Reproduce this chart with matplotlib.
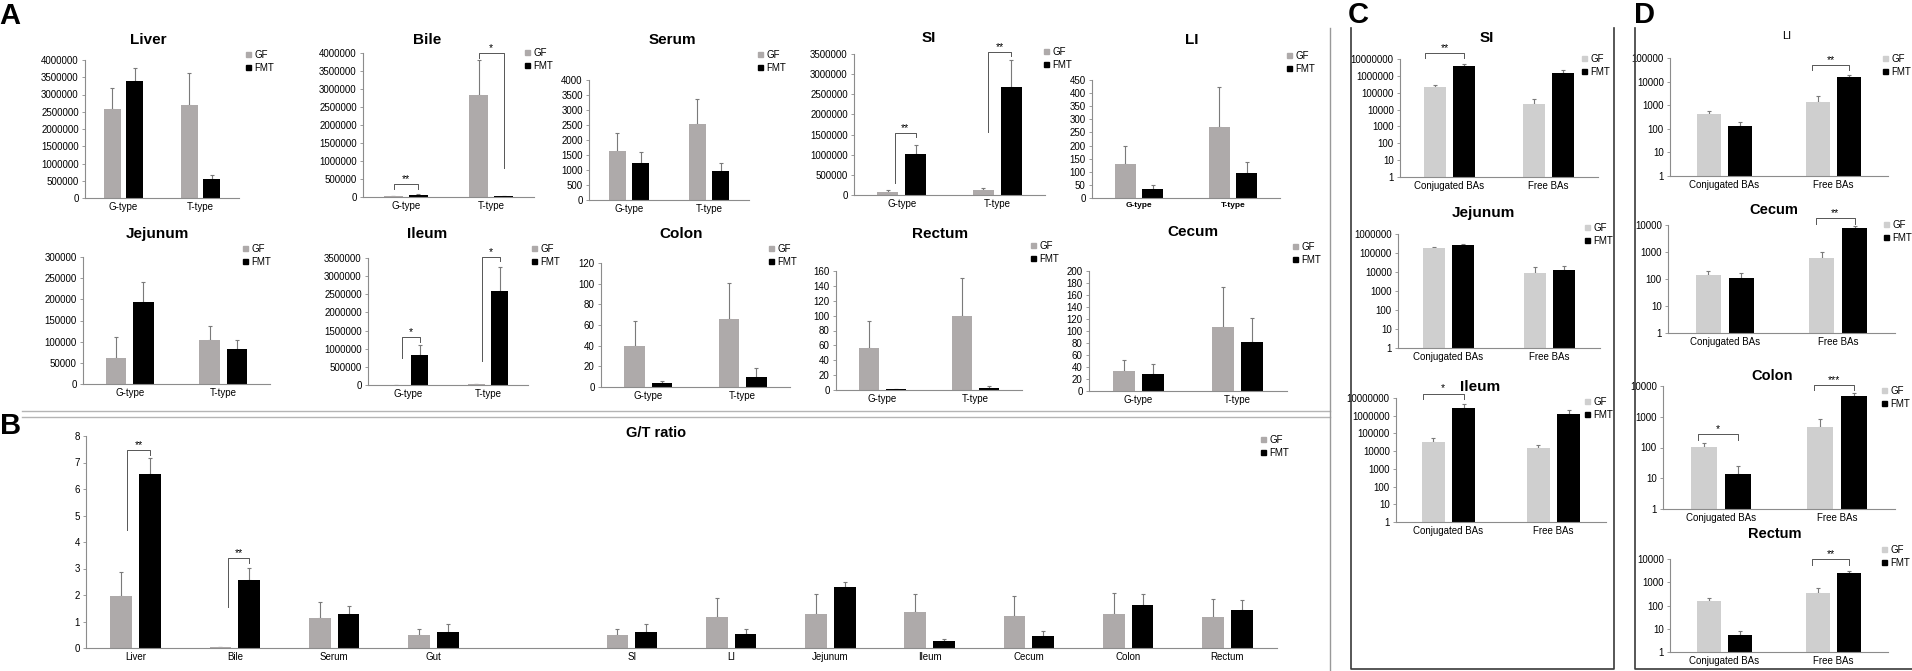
import numpy as np
import matplotlib
matplotlib.use('Agg')
import matplotlib.pyplot as plt
from matplotlib.lines import Line2D
from matplotlib.patches import Patch
from matplotlib.ticker import FuncFormatter, NullLocator

plt.rcParams['font.family'] = ['Liberation Sans', 'DejaVu Sans']

# ---- data (mean and upper SD) ----
groups_a = ['G-type', 'T-type']
groups_cd = ['Conjugated BAs', 'Free BAs']

liver_gf, liver_gf_sd = [2580000, 2700000], [620000, 920000]
liver_fmt, liver_fmt_sd = [3380000, 550000], [390000, 120000]
bile_gf, bile_gf_sd = [15000, 2820000], [8000, 980000]
bile_fmt, bile_fmt_sd = [60000, 15000], [30000, 8000]
serum_gf, serum_gf_sd = [1650, 2550], [570, 830]
serum_fmt, serum_fmt_sd = [1220, 980], [390, 240]
si_gf, si_gf_sd = [65000, 120000], [50000, 50000]
si_fmt, si_fmt_sd = [1010000, 2680000], [230000, 660000]
li_gf, li_gf_sd = [130, 271], [70, 153]
li_fmt, li_fmt_sd = [34, 95], [16, 42]
jej_gf, jej_gf_sd = [62000, 105000], [48000, 32000]
jej_fmt, jej_fmt_sd = [193000, 83000], [47000, 22000]
ile_gf, ile_gf_sd = [8000, 20000], [5000, 8000]
ile_fmt, ile_fmt_sd = [830000, 2580000], [270000, 670000]
colon_gf, colon_gf_sd = [40, 66], [24, 35]
colon_fmt, colon_fmt_sd = [4, 10], [1.5, 8]
rectum_gf, rectum_gf_sd = [57, 100], [36, 51]
rectum_fmt, rectum_fmt_sd = [1.5, 3], [0.5, 2]
cecum_gf, cecum_gf_sd = [33, 107], [19, 67]
cecum_fmt, cecum_fmt_sd = [29, 82], [16, 40]

nan = np.nan
ratio_cats = ['Liver', 'Bile', 'Serum', 'Gut', '', 'SI', 'LI', 'Jejunum', 'Ileum', 'Cecum', 'Colon', 'Rectum']
ratio_gf = [1.95, 0.02, 1.13, 0.49, nan, 0.49, 1.18, 1.28, 1.37, 1.22, 1.30, 1.17]
ratio_gf_sd = [0.93, 0.03, 0.61, 0.21, nan, 0.22, 0.71, 0.77, 0.68, 0.74, 0.77, 0.68]
ratio_fmt = [6.57, 2.58, 1.28, 0.61, nan, 0.61, 0.54, 2.30, 0.25, 0.45, 1.62, 1.43]
ratio_fmt_sd = [0.60, 0.44, 0.32, 0.30, nan, 0.29, 0.19, 0.20, 0.08, 0.20, 0.42, 0.38]

c_si_gf, c_si_gf_sd = [210000, 21000], [70000, 21000]
c_si_fmt, c_si_fmt_sd = [3700000, 1400000], [1200000, 700000]
c_jej_gf, c_jej_gf_sd = [180000, 9000], [30000, 9000]
c_jej_fmt, c_jej_fmt_sd = [260000, 12700], [40000, 8000]
c_ile_gf, c_ile_gf_sd = [35000, 14500], [17000, 6500]
c_ile_fmt, c_ile_fmt_sd = [2900000, 1300000], [1400000, 900000]

d_li_gf, d_li_gf_sd = [425, 1380], [135, 1070]
d_li_fmt, d_li_fmt_sd = [130, 15500], [65, 3500]
d_cec_gf, d_cec_gf_sd = [135, 580], [55, 450]
d_cec_fmt, d_cec_fmt_sd = [105, 7900], [55, 1400]
d_col_gf, d_col_gf_sd = [103, 460], [35, 370]
d_col_fmt, d_col_fmt_sd = [13.8, 4700], [11, 1100]
d_rec_gf, d_rec_gf_sd = [155, 340], [55, 220]
d_rec_fmt, d_rec_fmt_sd = [5.4, 2450], [2.6, 550]

# ---- styles ----
W, H = 1912, 671
GF_AB = '#aeaaaa'
GF_CD = '#cfcfcf'
AXC = '#8c8c8c'
ERR = '#7a7a7a'
BW, OFF = 0.22, 0.145

fig = plt.figure(figsize=(W / 100, H / 100), dpi=100)
intfmt = FuncFormatter(lambda v, p: f'{v:.0f}')


def fx(x):
    return x / W


def fy(y):
    return 1 - y / H


def make_axes(l, t, r, b):
    ax = fig.add_axes([l / W, 1 - b / H, (r - l) / W, (b - t) / H])
    for s in ('top', 'right'):
        ax.spines[s].set_visible(False)
    for s in ('left', 'bottom'):
        ax.spines[s].set_color(AXC)
        ax.spines[s].set_linewidth(0.8)
    ax.tick_params(axis='y', length=2.5, width=0.6, color=AXC, labelsize=7, pad=2)
    ax.tick_params(axis='x', length=0, labelsize=7, pad=3)
    return ax


def draw_bars(ax, cats, gf, gf_sd, fmt, fmt_sd, gfc):
    x = np.arange(len(cats))
    ax.bar(x - OFF, gf, BW, color=gfc, zorder=2)
    ax.bar(x + OFF, fmt, BW, color='black', zorder=2)
    z = np.zeros(len(cats))
    ax.errorbar(x - OFF, gf, yerr=[z, gf_sd], fmt='none', ecolor=ERR,
                elinewidth=0.8, capsize=1.2, capthick=0.8, zorder=1)
    ax.errorbar(x + OFF, fmt, yerr=[z, fmt_sd], fmt='none', ecolor=ERR,
                elinewidth=0.8, capsize=1.2, capthick=0.8, zorder=1)
    ax.set_xlim(-0.5, len(cats) - 0.5)
    ax.set_xticks(x)
    ax.set_xticklabels(cats)


def legend(ax, x, y, gfc, fs=7):
    h = [Patch(color=gfc), Patch(color='black')]
    ax.legend(h, ['GF', 'FMT'], loc='upper left', bbox_to_anchor=(fx(x), fy(y - 6)),
              bbox_transform=fig.transFigure, frameon=False, fontsize=fs,
              handlelength=0.55, handleheight=0.55, handletextpad=0.3,
              labelspacing=0.3, borderpad=0, borderaxespad=0)


def title(x, y, s, fs=11, weight='bold'):
    fig.text(fx(x), fy(y), s, ha='center', va='center', fontsize=fs, fontweight=weight)


def bracket(ax, i, yl, yr, yt, label, dl=0.07):
    xl, xr = i - OFF + dl, i + OFF
    ax.plot([xl, xl, xr, xr], [yl, yt, yt, yr], color='#555555', lw=0.7,
            clip_on=False, zorder=3)
    ax.text((xl + xr) / 2, yt, label, ha='center', va='bottom', fontsize=7.5, clip_on=False)


def panel_lin(box, ymax, step, gf, gf_sd, fmt, fmt_sd, cats=groups_a, gfc=GF_AB):
    ax = make_axes(*box)
    draw_bars(ax, cats, gf, gf_sd, fmt, fmt_sd, gfc)
    ax.set_ylim(0, ymax)
    ax.set_yticks(np.arange(0, ymax + step * 0.5, step))
    ax.yaxis.set_major_formatter(intfmt)
    return ax


def panel_log(box, top_exp, gf, gf_sd, fmt, fmt_sd):
    ax = make_axes(*box)
    ax.set_yscale('log')
    draw_bars(ax, groups_cd, gf, gf_sd, fmt, fmt_sd, GF_CD)
    ax.set_ylim(1, 10 ** top_exp)
    ax.set_yticks([10 ** k for k in range(top_exp + 1)])
    ax.yaxis.set_major_formatter(intfmt)
    ax.yaxis.set_minor_locator(NullLocator())
    return ax


# ---- panel A ----
ax = panel_lin((85, 60, 239, 198), 4000000, 500000, liver_gf, liver_gf_sd, liver_fmt, liver_fmt_sd)
title(148, 40, 'Liver'); legend(ax, 246, 56, GF_AB)

ax = panel_lin((363, 53, 534, 197), 4000000, 500000, bile_gf, bile_gf_sd, bile_fmt, bile_fmt_sd)
title(427, 40, 'Bile'); legend(ax, 525, 54, GF_AB)
bracket(ax, 0, 222000, 222000, 361000, '**', dl=0.01)
bracket(ax, 1, 3860000, 800000, 4000000, '*', dl=0.0)

ax = panel_lin((589, 80, 749, 200), 4000, 500, serum_gf, serum_gf_sd, serum_fmt, serum_fmt_sd)
title(672, 40, 'Serum'); legend(ax, 758, 56, GF_AB)

ax = panel_lin((854, 54, 1045, 195), 3500000, 500000, si_gf, si_gf_sd, si_fmt, si_fmt_sd)
title(929, 38, 'SI'); legend(ax, 1044, 53, GF_AB)
bracket(ax, 0, 310000, 1440000, 1540000, '**')
bracket(ax, 1, 1560000, 3440000, 3560000, '**', dl=0.05)

ax = panel_lin((1092, 80, 1280, 198), 450, 50, li_gf, li_gf_sd, li_fmt, li_fmt_sd)
ax.tick_params(axis='x', labelsize=6)
for t in ax.get_xticklabels():
    t.set_fontweight('bold')
title(1192, 40, 'LI'); legend(ax, 1287, 57, GF_AB)

ax = panel_lin((83, 257, 270, 384), 300000, 50000, jej_gf, jej_gf_sd, jej_fmt, jej_fmt_sd)
title(157, 234, 'Jejunum'); legend(ax, 243, 250, GF_AB)

ax = panel_lin((368, 258, 528, 385), 3500000, 500000, ile_gf, ile_gf_sd, ile_fmt, ile_fmt_sd)
title(427, 234, 'Ileum'); legend(ax, 532, 250, GF_AB)
bracket(ax, 0, 750000, 1190000, 1310000, '*')
bracket(ax, 1, 670000, 3420000, 3530000, '*')

ax = panel_lin((601, 263, 790, 387), 120, 20, colon_gf, colon_gf_sd, colon_fmt, colon_fmt_sd)
title(681, 234, 'Colon'); legend(ax, 769, 250, GF_AB)

ax = panel_lin((836, 271, 1022, 390), 160, 20, rectum_gf, rectum_gf_sd, rectum_fmt, rectum_fmt_sd)
title(940, 234, 'Rectum'); legend(ax, 1031, 247, GF_AB)

ax = panel_lin((1089, 271, 1287, 391), 200, 20, cecum_gf, cecum_gf_sd, cecum_fmt, cecum_fmt_sd)
title(1193, 232, 'Cecum'); legend(ax, 1293, 248, GF_AB)

# ---- panel B ----
ax = panel_lin((86, 436, 1277, 648), 8, 1, ratio_gf, ratio_gf_sd, ratio_fmt, ratio_fmt_sd,
               cats=ratio_cats)
title(656, 433, 'G/T ratio', fs=10.5)
legend(ax, 1261, 441, GF_AB)
bracket(ax, 0, 4.45, 7.28, 7.47, '**', dl=0.06)
bracket(ax, 1, 1.55, 3.2, 3.4, '**', dl=0.08)

# ---- panel C ----
ax = panel_log((1400, 59, 1598, 177), 7, c_si_gf, c_si_gf_sd, c_si_fmt, c_si_fmt_sd)
title(1487, 38, 'SI'); legend(ax, 1582, 60, GF_CD)
bracket(ax, 0, 10 ** 7.04, 10 ** 7.04, 10 ** 7.34, '**', dl=-0.1)

ax = panel_log((1398, 234, 1600, 348), 6, c_jej_gf, c_jej_gf_sd, c_jej_fmt, c_jej_fmt_sd)
title(1483, 213, 'Jejunum'); legend(ax, 1585, 229, GF_CD)

ax = panel_log((1396, 398, 1606, 522), 7, c_ile_gf, c_ile_gf_sd, c_ile_fmt, c_ile_fmt_sd)
title(1480, 387, 'Ileum'); legend(ax, 1585, 403, GF_CD)
bracket(ax, 0, 10 ** 6.92, 10 ** 6.92, 10 ** 7.25, '*', dl=-0.1)

# ---- panel D ----
ax = panel_log((1670, 58, 1888, 176), 5, d_li_gf, d_li_gf_sd, d_li_fmt, d_li_fmt_sd)
title(1787, 36, 'LI', fs=8, weight='normal'); legend(ax, 1883, 60, GF_CD)
bracket(ax, 1, 10 ** 4.49, 10 ** 4.49, 10 ** 4.7, '**', dl=-0.05)

ax = panel_log((1668, 225, 1895, 333), 4, d_cec_gf, d_cec_gf_sd, d_cec_fmt, d_cec_fmt_sd)
title(1774, 210, 'Cecum', fs=10.5); legend(ax, 1884, 226, GF_CD)
bracket(ax, 1, 10 ** 4.04, 10 ** 4.04, 10 ** 4.26, '**', dl=-0.05)

ax = panel_log((1663, 386, 1895, 509), 4, d_col_gf, d_col_gf_sd, d_col_fmt, d_col_fmt_sd)
title(1772, 376, 'Colon', fs=10.5); legend(ax, 1882, 392, GF_CD)
bracket(ax, 0, 10 ** 2.24, 10 ** 2.24, 10 ** 2.44, '*', dl=-0.05)
bracket(ax, 1, 10 ** 3.86, 10 ** 3.86, 10 ** 4.03, '***', dl=-0.05)

ax = panel_log((1670, 559, 1888, 652), 4, d_rec_gf, d_rec_gf_sd, d_rec_fmt, d_rec_fmt_sd)
title(1775, 534, 'Rectum', fs=10.5); legend(ax, 1882, 551, GF_CD)
bracket(ax, 1, 10 ** 3.73, 10 ** 3.73, 10 ** 3.99, '**', dl=-0.05)

# ---- panel frames and letters ----
def fline(xs, ys, color, lw):
    fig.add_artist(Line2D([fx(v) for v in xs], [fy(v) for v in ys],
                          transform=fig.transFigure, color=color, lw=lw))


fline([22, 1330], [411, 411], '#b4b4b4', 1.0)
fline([22, 1330], [417, 417], '#b4b4b4', 1.0)
fline([1330, 1330], [28, 671], '#999999', 1.0)
fline([1351, 1351, 1614, 1614], [28, 669, 669, 28], '#3a3a3a', 1.2)
fline([1635, 1635, 1912], [28, 669, 669], '#3a3a3a', 1.2)

for lx, ly, s in [(10, 16, 'A'), (11, 426, 'B'), (1358, 15, 'C'), (1644, 15, 'D')]:
    fig.text(fx(lx), fy(ly), s, ha='center', va='center', fontsize=21, fontweight='bold')

fig.savefig('out.png', dpi=100)
